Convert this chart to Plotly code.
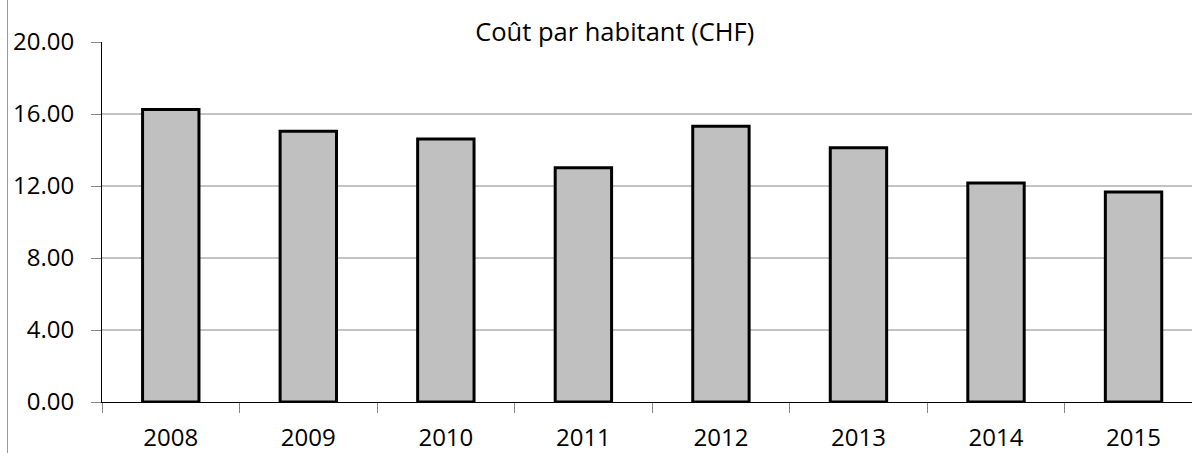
import plotly.graph_objects as go

YEARS   = ["2008", "2009", "2010", "2011", "2012", "2013", "2014", "2015"]
COUT    = [16.25, 15.04, 14.61, 13.02, 15.32, 14.13, 12.17, 11.67]
Y_TICKS = [0, 4, 8, 12, 16, 20]
GRID_AT = [4, 8, 12, 16]

FONT = "Open Sans, Noto Sans, sans-serif"
GRID = "#868686"

fig = go.Figure(go.Bar(
    x            = YEARS,
    y            = COUT,
    width        = 0.41,
    marker_color = "#c0c0c0",
    marker_line  = dict(color="black", width=3),
    hovertemplate= "<b>%{x}</b>: %{y:.2f} CHF<extra></extra>",
))

# horizontal gridlines (none at the top value)
for g in GRID_AT:
    fig.add_shape(type="line", xref="paper", yref="y", x0=0, x1=1, y0=g, y1=g,
                  line=dict(color=GRID, width=1), layer="below")

# chart-area border on the far left
fig.add_shape(type="line", xref="paper", yref="paper",
              x0=-0.0867, x1=-0.0867, y0=-0.2, y1=1.2,
              line=dict(color="#9a9a9a", width=1))

fig.update_layout(
    width         = 1192,
    height        = 453,
    plot_bgcolor  = "white",
    paper_bgcolor = "white",
    font          = dict(family=FONT, color="black", size=24),
    title         = dict(text="Coût par habitant (CHF)", xref="container", yref="container",
                         x=0.5157, y=0.929, xanchor="center", yanchor="middle",
                         font=dict(size=25.5, family=FONT, color="black")),
    margin        = dict(l=102, r=0, t=42, b=51),
    showlegend    = False,
    xaxis = dict(
        type="category", range=[-0.5, 7.425], tickson="boundaries", automargin=False,
        showline=True, linecolor="black", linewidth=1,
        ticks="outside", ticklen=10, tickcolor=GRID, tickwidth=1,
        showgrid=False, zeroline=False, ticklabelstandoff=14,
        tickfont=dict(size=24, family=FONT),
    ),
    yaxis = dict(
        range=[0, 20], tickvals=Y_TICKS, tickformat=".2f", automargin=False,
        showline=True, linecolor="black", linewidth=1,
        ticks="outside", ticklen=10, tickcolor=GRID, tickwidth=1,
        showgrid=False, zeroline=False, ticklabelstandoff=12,
        tickfont=dict(size=24, family=FONT),
    ),
)

fig.write_html("out.html", config={"displayModeBar": False},
               post_script="document.body.style.margin='0';")
